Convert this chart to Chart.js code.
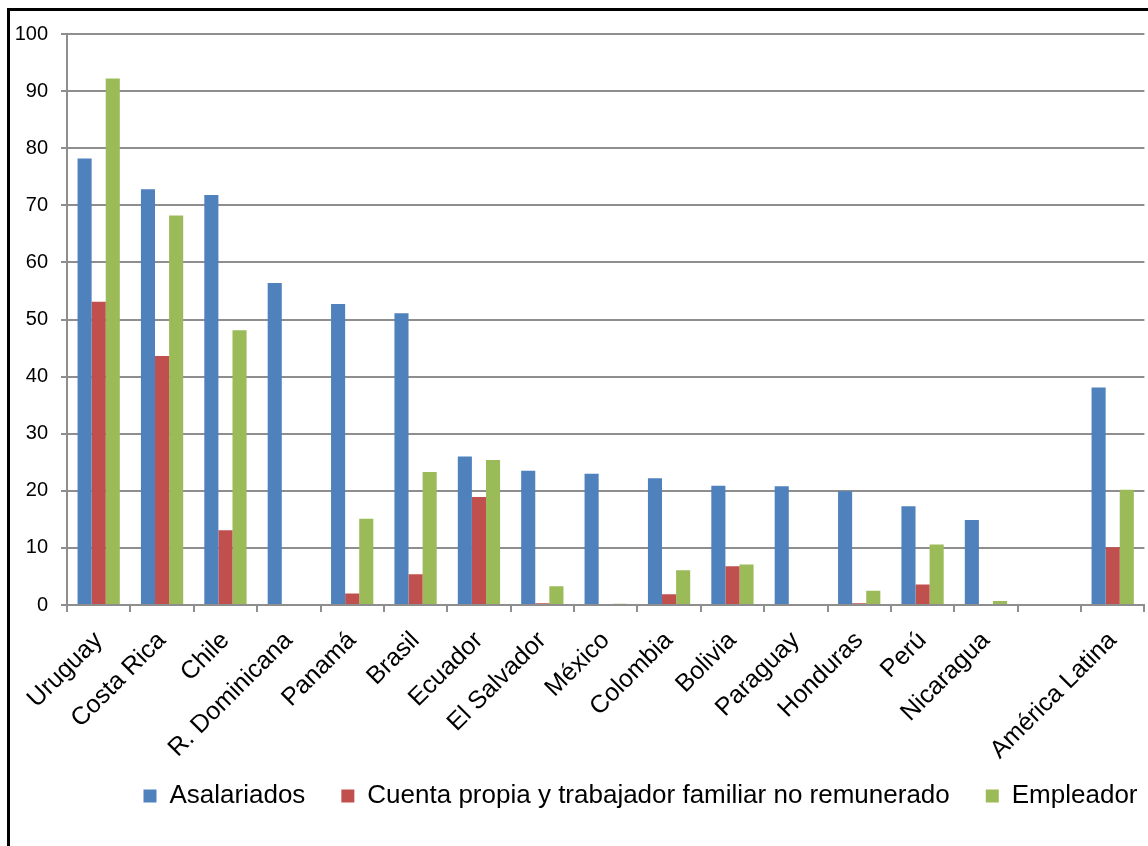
<!DOCTYPE html>
<html>
<head>
<meta charset="utf-8">
<script src="https://cdn.jsdelivr.net/npm/chart.js@4.4.1/dist/chart.umd.min.js"></script>
<style>
  html, body { margin: 0; padding: 0; background: #fff; overflow: hidden; }
  #wrap { position: relative; width: 1148px; height: 846px; overflow: hidden; }
  #frame { position: absolute; left: 7px; top: 8px; width: 2000px; height: 2000px;
           border-left: 3px solid #000; border-top: 3px solid #000; }
  #chart { position: absolute; left: 0; top: 0; }
</style>
</head>
<body>
<div id="wrap">
  <div id="frame"></div>
  <canvas id="chart" width="1148" height="846"></canvas>
</div>
<script>
// datos
var paises = ['Uruguay', 'Costa Rica', 'Chile', 'R. Dominicana', 'Panamá', 'Brasil', 'Ecuador',
  'El Salvador', 'México', 'Colombia', 'Bolivia', 'Paraguay', 'Honduras', 'Perú', 'Nicaragua',
  '', 'América Latina'];
var asalariados  = [78.2, 72.8, 71.8, 56.4, 52.7, 51.1, 26.0, 23.5, 23.0, 22.2, 20.9, 20.8, 19.9, 17.3, 14.9, null, 38.1];
var cuentaPropia = [53.1, 43.6, 13.1, 0, 2.0, 5.4, 18.9, 0.3, 0, 1.9, 6.8, 0, 0.3, 3.6, 0, null, 10.1];
var empleador    = [92.2, 68.2, 48.1, 0, 15.1, 23.3, 25.4, 3.3, 0.2, 6.1, 7.1, 0, 2.5, 10.6, 0.7, null, 20.2];
var seriesNames  = ['Asalariados', 'Cuenta propia y trabajador familiar no remunerado', 'Empleador'];

var FONT = '"Liberation Sans", Arial, sans-serif';
var GRID = '#8e8e8e';

// mover la leyenda: un poco a la derecha y hacia arriba, como en el original
var shiftLegend = {
  id: 'shiftLegend',
  afterLayout: function (chart) {
    var lg = chart.legend;
    lg.left += 68;
    lg.right += 68;
    lg.top -= 27;
    lg.bottom -= 27;
  }
};

var ctx = document.getElementById('chart').getContext('2d');
var myChart = new Chart(ctx, {
  type: 'bar',
  data: {
    labels: paises,
    datasets: [
      { label: seriesNames[0], data: asalariados, backgroundColor: '#4F81BD' },
      { label: seriesNames[1], data: cuentaPropia, backgroundColor: '#C0504D' },
      { label: seriesNames[2], data: empleador, backgroundColor: '#9BBB59' }
    ]
  },
  options: {
    responsive: false,
    animation: false,
    categoryPercentage: 0.667,
    barPercentage: 1.0,
    layout: { padding: { top: 34, left: 0, right: 3, bottom: 0 } },
    scales: {
      x: {
        grid: { drawOnChartArea: false, color: GRID, lineWidth: 2, tickLength: 7, offset: true },
        border: { color: GRID, width: 2 },
        ticks: {
          color: '#000', font: { family: FONT, size: 25 },
          minRotation: 45, maxRotation: 45, autoSkip: false, padding: 14
        },
        afterFit: function (s) { s.height = 169; }
      },
      y: {
        min: 0,
        max: 100,
        grid: { color: GRID, lineWidth: 2, tickLength: 6 },
        border: { color: GRID, width: 2 },
        ticks: { stepSize: 10, color: '#000', font: { family: FONT, size: 20 }, padding: 13 },
        afterFit: function (s) { s.width = 67; }
      }
    },
    plugins: {
      legend: {
        position: 'bottom',
        labels: {
          boxWidth: 13,
          boxHeight: 13,
          padding: 36,
          color: '#000',
          font: { family: FONT, size: 26 }
        }
      },
      tooltip: { enabled: false }
    }
  },
  plugins: [shiftLegend]
});
</script>
</body>
</html>
